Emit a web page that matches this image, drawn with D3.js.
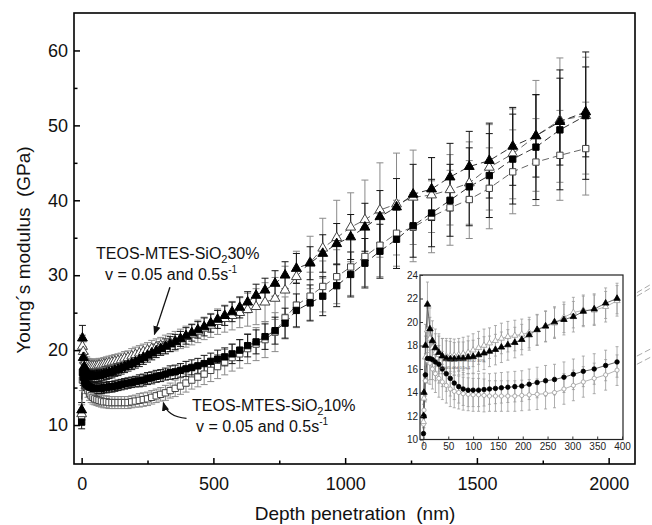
<!DOCTYPE html>
<html lang="en">
<head>
<meta charset="UTF-8">
<title>Young's modulus vs depth</title>
<script src="https://cdn.jsdelivr.net/npm/d3@7"></script>
<style>
  body { margin: 0; background: #fff; }
  text { font-family: Arial, "Liberation Sans", sans-serif; fill: #111; }
</style>
</head>
<body>
<div id="chart"></div>
<script>
// ---- main plot data (depth in nm, modulus in GPa) ----
const depth = [0,3,6,10,14,19,24,30,36,43,
  50,58,66,75,84,94,104,115,126,138,
  150,163,176,190,204,219,234,250,266,283,
  300,318,336,355,375,396,418,441,465,490,
  516,543,571,600,630,662,696,734,772,815,
  867,915,968,1021,1075,1132,1195,1258,1328,1398,
  1471,1547,1636,1724,1815,1913];

// TEOS-MTES-SiO2 30%, filled triangles
const tri30a = [12.0,21.6,19.0,17.8,17.2,16.9,16.7,16.6,16.5,16.5,
  16.5,16.6,16.6,16.7,16.8,16.9,17.0,17.1,17.3,17.4,
  17.6,17.8,18.0,18.2,18.4,18.7,19.0,19.3,19.6,19.9,
  20.2,20.5,20.8,21.1,21.5,21.9,22.3,22.7,23.1,23.6,
  24.1,24.6,25.1,25.7,26.4,27.3,28.0,28.9,30.0,30.9,
  31.6,32.9,34.2,35.1,36.4,37.8,39.1,40.8,41.5,43.1,
  44.5,45.3,47.2,48.6,50.5,51.8];
const tri30aErr = [1.0,1.7,1.4,1.2,1.0,0.9,0.8,0.8,0.8,0.8,
  0.8,0.8,0.8,0.8,0.8,0.8,0.8,0.8,0.8,0.8,
  0.8,0.8,0.8,0.8,0.8,0.9,0.9,0.9,0.9,0.9,
  0.9,1.0,1.0,1.0,1.0,1.1,1.1,1.1,1.2,1.2,
  1.2,1.3,1.3,1.4,1.4,1.5,1.6,1.7,1.8,2.0,
  2.2,2.5,2.7,3.0,3.2,3.5,3.8,4.0,4.2,4.5,
  4.7,5.0,5.2,5.5,5.8,6.0];

// TEOS-MTES-SiO2 30%, open triangles
const tri30b = [11.5,20.5,19.8,19.0,18.5,18.2,18.0,17.9,17.9,17.9,
  17.9,17.9,18.0,18.0,18.1,18.2,18.3,18.4,18.5,18.6,
  18.7,18.9,19.0,19.2,19.4,19.6,19.8,20.0,20.2,20.4,
  20.6,20.8,21.0,21.2,21.5,21.8,22.1,22.5,22.9,23.3,
  23.8,24.2,24.6,25.0,25.4,25.8,26.4,26.9,28.0,29.8,
  31.7,33.6,35.0,36.4,37.4,38.7,39.5,40.4,40.7,41.4,
  42.3,44.4,46.2,48.6,50.7,51.3];
const tri30bErr = [1.2,1.5,1.3,1.1,1.0,0.9,0.9,0.9,0.9,0.9,
  0.9,0.9,0.9,0.9,0.9,0.9,0.9,0.9,0.9,0.9,
  0.9,0.9,0.9,1.0,1.0,1.0,1.0,1.0,1.1,1.1,
  1.1,1.2,1.2,1.3,1.3,1.4,1.4,1.5,1.5,1.6,
  1.7,1.8,1.9,2.0,2.2,2.4,2.6,2.8,3.2,3.4,
  3.5,4.0,5.0,4.6,5.3,6.3,6.8,6.3,5.0,4.7,
  5.5,5.7,6.0,7.4,8.3,7.8];

// TEOS-MTES-SiO2 10%, filled squares
const sq10a = [10.4,17.0,16.4,15.9,15.6,15.4,15.2,15.1,15.0,14.9,
  14.9,14.9,14.9,14.9,15.0,15.0,15.1,15.1,15.2,15.3,
  15.4,15.5,15.6,15.7,15.8,15.9,16.0,16.2,16.3,16.5,
  16.6,16.8,17.0,17.1,17.3,17.5,17.7,17.9,18.2,18.5,
  18.8,19.1,19.5,20.0,20.6,21.1,21.8,22.6,23.6,25.3,
  26.3,27.2,28.6,30.1,31.6,33.2,34.8,36.6,38.3,40.0,
  41.8,43.3,45.5,47.1,49.4,51.3];
const sq10aErr = [0.9,1.3,1.1,1.0,0.9,0.8,0.8,0.8,0.8,0.8,
  0.7,0.7,0.7,0.7,0.7,0.7,0.7,0.7,0.7,0.7,
  0.7,0.7,0.7,0.7,0.7,0.8,0.8,0.8,0.8,0.8,
  0.8,0.8,0.9,0.9,0.9,1.0,1.0,1.0,1.1,1.1,
  1.2,1.2,1.3,1.4,1.5,1.6,1.7,1.8,2.0,2.2,
  2.4,2.6,2.8,3.0,3.3,3.6,3.9,4.2,4.5,4.8,
  5.2,5.6,6.0,7.0,8.0,8.5];

// TEOS-MTES-SiO2 10%, open squares
const sq10b = [11.0,16.0,17.0,16.4,15.7,15.1,14.6,14.2,13.9,13.7,
  13.5,13.4,13.3,13.2,13.1,13.1,13.0,13.0,13.0,13.0,
  13.0,13.0,13.0,13.1,13.2,13.3,13.4,13.5,13.7,13.9,
  14.1,14.3,14.6,14.9,15.2,15.6,16.0,16.4,16.8,17.3,
  17.8,18.4,19.0,19.5,20.2,20.8,21.4,22.4,24.3,26.0,
  27.2,28.5,29.8,31.1,32.5,34.0,35.6,36.4,37.8,39.0,
  40.1,41.6,43.8,45.1,46.0,46.9];
const sq10bErr = [1.0,1.4,1.2,1.1,1.0,0.9,0.9,0.9,0.9,0.9,
  0.8,0.8,0.8,0.8,0.8,0.8,0.8,0.8,0.8,0.8,
  0.8,0.8,0.8,0.8,0.8,0.9,0.9,0.9,0.9,0.9,
  0.9,1.0,1.0,1.1,1.1,1.2,1.2,1.3,1.4,1.5,
  1.6,1.7,1.8,1.9,2.0,2.2,2.4,2.6,2.8,3.0,
  3.2,3.4,3.6,3.8,4.0,4.2,4.4,4.6,4.8,5.0,
  5.2,5.4,5.6,5.8,6.0,6.2];

const xTicks = [0, 500, 1000, 1500, 2000];
const xMinor = [250, 750, 1250, 1750];
const yTicks = [10, 20, 30, 40, 50, 60];
const yMinor = [15, 25, 35, 45, 55];

// ---- inset data (first 400 nm) ----
const insetDepth = [0,1,4,8,13,18,24,31,38,46,
  54,62,71,80,90,100,111,122,133,145,
  157,170,184,198,213,229,246,264,283,302,
  322,344,367,390];
const insetTriA = [12.0,14.0,18.0,21.5,19.4,18.4,17.8,17.4,17.1,16.9,
  16.85,16.85,16.9,16.9,17.0,17.05,17.2,17.35,17.5,17.65,
  17.85,18.05,18.25,18.5,18.9,19.35,19.65,20.0,20.2,20.45,
  20.9,21.1,21.6,22.0];
const insetTriB = [11.5,13.5,17.0,19.3,18.6,17.8,17.4,17.2,17.1,17.1,
  17.1,17.15,17.2,17.3,17.4,17.6,17.8,18.0,18.2,18.4,
  18.6,18.75,18.85,18.95,19.1,19.3,19.6,19.9,20.4,20.8,
  21.0,21.0,21.3,21.8];
const insetCircA = [10.5,12.0,15.5,16.9,16.9,16.8,16.6,16.4,16.0,15.6,
  15.2,14.8,14.5,14.3,14.2,14.2,14.2,14.25,14.3,14.35,
  14.4,14.45,14.5,14.55,14.7,14.85,15.0,15.1,15.3,15.55,
  15.8,16.0,16.3,16.6];
const insetCircB = [11.3,12.5,15.0,16.7,16.5,16.0,15.6,15.2,14.9,14.6,
  14.3,14.1,14.0,13.9,13.85,13.8,13.8,13.75,13.7,13.7,
  13.7,13.7,13.7,13.75,13.8,13.85,13.9,14.0,14.3,14.6,
  14.9,15.2,15.5,15.9];
const insetErr = [1.0,1.5,1.8,1.9,1.8,1.7,1.6,1.6,1.5,1.5,
  1.5,1.4,1.4,1.4,1.4,1.4,1.4,1.4,1.3,1.3,
  1.3,1.3,1.3,1.3,1.3,1.3,1.3,1.3,1.3,1.3,
  1.3,1.3,1.3,1.3];
// the inset curves run on past the frame on the right
const tailDepth = [430, 462];
const tailTriA = [22.5, 23.3];
const tailTriB = [22.2, 23.0];
const tailCircA = [17.1, 17.8];
const tailCircB = [16.4, 17.1];

const insetXTicks = [0,50,100,150,200,250,300,350,400];
const insetYTicks = [10,12,14,16,18,20,22,24];

// ---- layout ----
const W = 652, H = 525;
const plot = { left: 74, right: 635, top: 13, bottom: 464 };
const ins = { left: 420, right: 623, top: 275, bottom: 439.5 };

const svg = d3.select("#chart").append("svg")
  .attr("width", W).attr("height", H)
  .style("background", "#fff");

const x = d3.scaleLinear().domain([-29, 2100]).range([plot.left, plot.right]);
const y = d3.scaleLinear().domain([4.8, 65]).range([plot.bottom, plot.top]);

const series = [
  { vals: sq10b, err: sq10bErr, shape: d3.symbolSquare, size: 40, filled: false },
  { vals: tri30b, err: tri30bErr, shape: d3.symbolTriangle, size: 42, filled: false },
  { vals: sq10a, err: sq10aErr, shape: d3.symbolSquare, size: 40, filled: true },
  { vals: tri30a, err: tri30aErr, shape: d3.symbolTriangle, size: 42, filled: true }
];

const main = svg.append("g");

// error bars
series.forEach(s => {
  const col = s.filled ? "#151515" : "#8a8a8a";
  const g = main.append("g").attr("stroke", col).attr("stroke-width", 1);
  depth.forEach((d, i) => {
    const cx = x(d), hi = y(s.vals[i] + s.err[i]), lo = y(s.vals[i] - s.err[i]);
    g.append("line").attr("x1", cx).attr("x2", cx).attr("y1", hi).attr("y2", lo);
    g.append("line").attr("x1", cx - 3.5).attr("x2", cx + 3.5).attr("y1", hi).attr("y2", hi);
    g.append("line").attr("x1", cx - 3.5).attr("x2", cx + 3.5).attr("y1", lo).attr("y2", lo);
  });
});

// dashed connecting lines
const line = d3.line().x((d, i) => x(depth[i])).y(d => y(d));
series.forEach(s => {
  main.append("path")
    .attr("d", line(s.vals))
    .attr("fill", "none")
    .attr("stroke", s.filled ? "#333" : "#666")
    .attr("stroke-width", 1)
    .attr("stroke-dasharray", "7,4");
});

// symbols
series.forEach(s => {
  main.append("g").selectAll("path")
    .data(s.vals)
    .join("path")
    .attr("transform", (v, i) => `translate(${x(depth[i])},${y(v)})`)
    .attr("d", d3.symbol().type(s.shape).size(s.size))
    .attr("fill", s.filled ? "#000" : "#fff")
    .attr("stroke", s.filled ? "#000" : "#444")
    .attr("stroke-width", 1);
});

// ---- inset ----
const xi = d3.scaleLinear().domain([-7, 402]).range([ins.left, ins.right]);
const yi = d3.scaleLinear().domain([10, 24]).range([ins.bottom, ins.top]);

svg.append("rect")
  .attr("x", ins.left).attr("y", ins.top)
  .attr("width", ins.right - ins.left).attr("height", ins.bottom - ins.top)
  .attr("fill", "#fff");

const iseries = [
  { vals: insetCircB, shape: d3.symbolCircle, size: 14, filled: false },
  { vals: insetTriB, shape: d3.symbolTriangle, size: 16, filled: false },
  { vals: insetCircA, shape: d3.symbolCircle, size: 16, filled: true },
  { vals: insetTriA, shape: d3.symbolTriangle, size: 18, filled: true }
];
const inset = svg.append("g");

iseries.forEach(s => {
  const g = inset.append("g").attr("stroke", "#9a9a9a").attr("stroke-width", 0.8);
  insetDepth.forEach((d, i) => {
    const cx = xi(d), hi = yi(s.vals[i] + insetErr[i]), lo = yi(s.vals[i] - insetErr[i]);
    g.append("line").attr("x1", cx).attr("x2", cx).attr("y1", hi).attr("y2", lo);
    g.append("line").attr("x1", cx - 1.5).attr("x2", cx + 1.5).attr("y1", hi).attr("y2", hi);
    g.append("line").attr("x1", cx - 1.5).attr("x2", cx + 1.5).attr("y1", lo).attr("y2", lo);
  });
});

const iline = d3.line().x((d, i) => xi(insetDepth[i])).y(d => yi(d));
iseries.forEach(s => {
  inset.append("path")
    .attr("d", iline(s.vals))
    .attr("fill", "none")
    .attr("stroke", s.filled ? "#555" : "#aaa")
    .attr("stroke-width", 0.9);
});

iseries.forEach(s => {
  inset.append("g").selectAll("path")
    .data(s.vals)
    .join("path")
    .attr("transform", (v, i) => `translate(${xi(insetDepth[i])},${yi(v)})`)
    .attr("d", d3.symbol().type(s.shape).size(s.size))
    .attr("fill", s.filled ? "#000" : "#fff")
    .attr("stroke", s.filled ? "#000" : "#999")
    .attr("stroke-width", 0.8);
});

// tiny labels inside the inset
inset.append("text").attr("x", xi(38)).attr("y", yi(16.6))
  .attr("font-size", 4).style("fill", "#555").text("TEOS-MTES-SiO2 30%");
inset.append("text").attr("x", xi(30)).attr("y", yi(16.0))
  .attr("font-size", 4).style("fill", "#555").text("v=0.05 and 0.5s-1");

svg.append("rect")
  .attr("x", ins.left).attr("y", ins.top)
  .attr("width", ins.right - ins.left).attr("height", ins.bottom - ins.top)
  .attr("fill", "none").attr("stroke", "#222").attr("stroke-width", 1.2);

const ixAxis = svg.append("g")
  .attr("transform", `translate(0,${ins.bottom})`)
  .call(d3.axisBottom(xi).tickValues(insetXTicks).tickSize(-3).tickPadding(3));
const iyAxis = svg.append("g")
  .attr("transform", `translate(${ins.left},0)`)
  .call(d3.axisLeft(yi).tickValues(insetYTicks).tickSize(-3).tickPadding(2));
[ixAxis, iyAxis].forEach(a => {
  a.select(".domain").remove();
  a.selectAll("line").attr("stroke", "#333");
  a.selectAll("text").attr("font-size", 10).style("font-family", "Arial, 'Liberation Sans', sans-serif").style("fill", "#222");
});

// dashed tails to the right of the main frame
const tline = d3.line().x((d, i) => xi(tailDepth[i])).y(d => yi(d));
[tailTriA, tailTriB, tailCircA, tailCircB].forEach(t => {
  svg.append("path").attr("d", tline(t))
    .attr("fill", "none").attr("stroke", "#aaa").attr("stroke-width", 1)
    .attr("stroke-dasharray", "6,3");
});

// ---- main frame and axes ----
svg.append("rect")
  .attr("x", plot.left).attr("y", plot.top)
  .attr("width", plot.right - plot.left).attr("height", plot.bottom - plot.top)
  .attr("fill", "none").attr("stroke", "#000").attr("stroke-width", 1.6);

const xAxis = svg.append("g")
  .attr("transform", `translate(0,${plot.bottom})`)
  .call(d3.axisBottom(x).tickValues(xTicks).tickSize(-6).tickPadding(13).tickFormat(d3.format("d")));
const xAxisMinor = svg.append("g")
  .attr("transform", `translate(0,${plot.bottom})`)
  .call(d3.axisBottom(x).tickValues(xMinor).tickSize(-3.5).tickFormat(""));
const yAxis = svg.append("g")
  .attr("transform", `translate(${plot.left},0)`)
  .call(d3.axisLeft(y).tickValues(yTicks).tickSize(-6).tickPadding(6));
const yAxisMinor = svg.append("g")
  .attr("transform", `translate(${plot.left},0)`)
  .call(d3.axisLeft(y).tickValues(yMinor).tickSize(-3.5).tickFormat(""));
[xAxis, xAxisMinor, yAxis, yAxisMinor].forEach(a => {
  a.select(".domain").remove();
  a.selectAll("line").attr("stroke", "#000").attr("stroke-width", 1.5);
  a.selectAll("text").attr("font-size", 18).style("font-family", "Arial, 'Liberation Sans', sans-serif").style("fill", "#111");
});

svg.append("text")
  .attr("transform", `translate(30,250) rotate(-90)`)
  .attr("text-anchor", "middle")
  .attr("font-size", 19)
  .attr("xml:space", "preserve")
  .text("Young´s modulus  (GPa)");

svg.append("text")
  .attr("x", 355).attr("y", 520)
  .attr("text-anchor", "middle")
  .attr("font-size", 19)
  .attr("xml:space", "preserve")
  .text("Depth penetration  (nm)");

// ---- annotations ----
function sampleLabel(x0, y0, pct, x1, y1) {
  const t = svg.append("text").attr("x", x0).attr("y", y0).attr("font-size", 16);
  t.append("tspan").text("TEOS-MTES-SiO");
  t.append("tspan").attr("font-size", 11).attr("dy", 4).text("2");
  t.append("tspan").attr("dy", -4).text(pct);
  const v = svg.append("text").attr("x", x1).attr("y", y1).attr("font-size", 16);
  v.append("tspan").text("v = 0.05 and 0.5s");
  v.append("tspan").attr("font-size", 10).attr("dy", -7).text("-1");
}
sampleLabel(96, 259, "30%", 105, 280);
sampleLabel(192, 411, "10%", 196, 432);

svg.append("defs").append("marker")
  .attr("id", "head").attr("viewBox", "0 0 10 10")
  .attr("refX", 9).attr("refY", 5)
  .attr("markerWidth", 7).attr("markerHeight", 7)
  .attr("orient", "auto-start-reverse")
  .append("path").attr("d", "M0,1 L10,5 L0,9 z").attr("fill", "#111");

svg.append("line")
  .attr("x1", x(335)).attr("y1", y(28.4))
  .attr("x2", x(276)).attr("y2", y(22.1))
  .attr("stroke", "#111").attr("stroke-width", 1.3)
  .attr("marker-end", "url(#head)");

svg.append("path")
  .attr("d", `M${x(398)},${y(10.9)} Q${x(325)},${y(11.1)} ${x(310)},${y(13.0)}`)
  .attr("fill", "none").attr("stroke", "#111").attr("stroke-width", 1.3)
  .attr("marker-end", "url(#head)");
</script>
</body>
</html>
